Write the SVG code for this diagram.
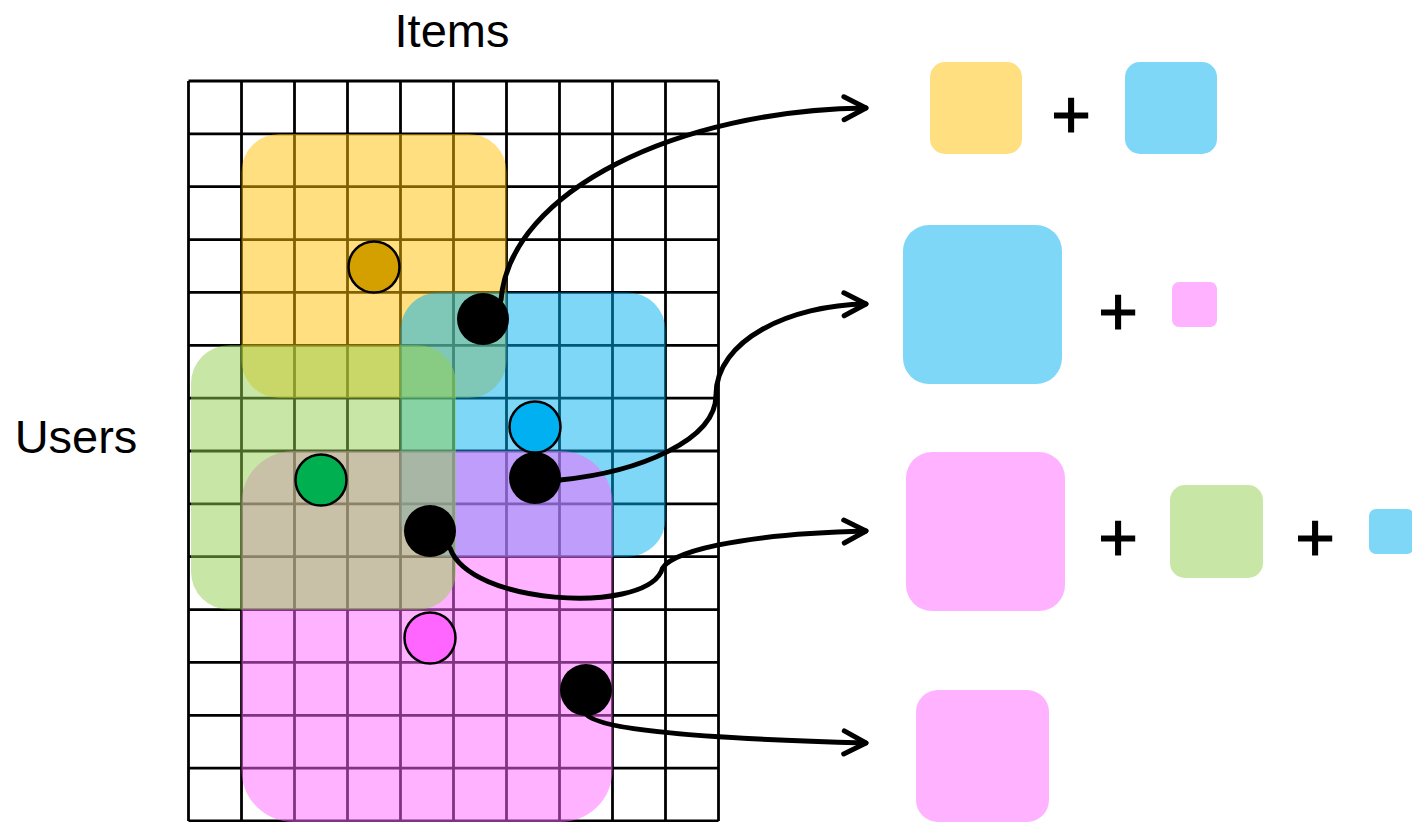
<svg xmlns="http://www.w3.org/2000/svg" width="1412" height="822" viewBox="0 0 1412 822">
  <style>
    .grid line { stroke: #000; stroke-width: 2.8; }
    .yellow { fill: #FFBF00; fill-opacity: 0.5; }
    .blue   { fill: #00AFEF; fill-opacity: 0.5; }
    .green  { fill: #92D050; fill-opacity: 0.5; }
    .pink   { fill: #FF66FF; fill-opacity: 0.5; }
    .dot    { stroke: #000; stroke-width: 2.5; }
    .hit    { fill: #000; }
    .link   { fill: none; stroke: #000; stroke-width: 5; stroke-linecap: round; }
    .label  { font-family: "Liberation Sans", Arial, sans-serif; font-size: 47px; fill: #000; text-anchor: middle; }
    .plus   { font-family: "Liberation Sans", Arial, sans-serif; font-size: 68px; fill: #000; stroke: #000; stroke-width: 1.2; text-anchor: middle; }
  </style>
  <defs>
    <marker id="chev" markerUnits="userSpaceOnUse" viewBox="-30 -16 36 32" refX="0" refY="0" markerWidth="36" markerHeight="32" orient="auto" overflow="visible">
      <path d="M -22 -11.5 L 0 0 L -22 11.5" fill="none" stroke="#000" stroke-width="5" stroke-linecap="round" stroke-linejoin="round"/>
    </marker>
  </defs>

  <rect width="1412" height="822" fill="#fff"/>

  <!-- axis labels -->
  <text id="label-items" class="label" x="452" y="47">Items</text>
  <text id="label-users" class="label" x="76" y="453">Users</text>

  <!-- user x item matrix: 10 columns, 14 rows -->
  <g id="matrix" class="grid">
    <line x1="188.5" y1="81" x2="188.5" y2="821"/>
    <line x1="241.5" y1="81" x2="241.5" y2="821"/>
    <line x1="294.5" y1="81" x2="294.5" y2="821"/>
    <line x1="347.5" y1="81" x2="347.5" y2="821"/>
    <line x1="400.5" y1="81" x2="400.5" y2="821"/>
    <line x1="453.5" y1="81" x2="453.5" y2="821"/>
    <line x1="506.5" y1="81" x2="506.5" y2="821"/>
    <line x1="559.5" y1="81" x2="559.5" y2="821"/>
    <line x1="612.5" y1="81" x2="612.5" y2="821"/>
    <line x1="665.5" y1="81" x2="665.5" y2="821"/>
    <line x1="718.5" y1="81" x2="718.5" y2="821"/>
    <line x1="188.5" y1="81" x2="718.5" y2="81"/>
    <line x1="188.5" y1="133.9" x2="718.5" y2="133.9"/>
    <line x1="188.5" y1="186.7" x2="718.5" y2="186.7"/>
    <line x1="188.5" y1="239.6" x2="718.5" y2="239.6"/>
    <line x1="188.5" y1="292.4" x2="718.5" y2="292.4"/>
    <line x1="188.5" y1="345.3" x2="718.5" y2="345.3"/>
    <line x1="188.5" y1="398.1" x2="718.5" y2="398.1"/>
    <line x1="188.5" y1="451" x2="718.5" y2="451"/>
    <line x1="188.5" y1="503.9" x2="718.5" y2="503.9"/>
    <line x1="188.5" y1="556.7" x2="718.5" y2="556.7"/>
    <line x1="188.5" y1="609.6" x2="718.5" y2="609.6"/>
    <line x1="188.5" y1="662.4" x2="718.5" y2="662.4"/>
    <line x1="188.5" y1="715.3" x2="718.5" y2="715.3"/>
    <line x1="188.5" y1="768.1" x2="718.5" y2="768.1"/>
    <line x1="188.5" y1="821" x2="718.5" y2="821"/>
  </g>

  <!-- translucent blocks over the matrix -->
  <g id="block-yellow"><rect class="yellow" x="241.5" y="133.9" width="265" height="264.2" rx="38"/></g>
  <g id="block-blue"><rect class="blue" x="400.5" y="292.4" width="265" height="264.3" rx="38"/></g>
  <g id="block-pink"><rect class="pink" x="241.5" y="451" width="371" height="371" rx="52"/></g>
  <g id="block-green"><rect class="green" x="191" y="345.3" width="265" height="264.3" rx="38"/></g>

  <!-- connectors -->
  <g id="connectors">
    <path class="link" d="M 501 300 C 510 190, 680 110, 866 108" marker-end="url(#chev)"/>
    <path class="link" d="M 560 480 C 640 472, 716 440, 716 395 C 716 340, 790 305, 866 304" marker-end="url(#chev)"/>
    <path class="link" d="M 450 548 C 470 605, 640 614, 661 572 C 664 552, 740 534, 866 531" marker-end="url(#chev)"/>
    <path class="link" d="M 585 712 C 590 728, 680 738, 866 743" marker-end="url(#chev)"/>
  </g>

  <!-- block centres and selected entries -->
  <g id="dot-yellow"><circle class="dot" cx="374" cy="267" r="25.5" fill="#D4A000"/></g>
  <g id="dot-blue"><circle class="dot" cx="535" cy="427" r="25.5" fill="#00B0F0"/></g>
  <g id="dot-green"><circle class="dot" cx="321" cy="480" r="25.5" fill="#00B050"/></g>
  <g id="dot-pink"><circle class="dot" cx="430" cy="638" r="25.5" fill="#FF66FF"/></g>
  <g id="entry-1"><circle class="hit" cx="483" cy="319" r="26"/></g>
  <g id="entry-2"><circle class="hit" cx="535" cy="478" r="26"/></g>
  <g id="entry-3"><circle class="hit" cx="430" cy="531" r="26"/></g>
  <g id="entry-4"><circle class="hit" cx="586" cy="690" r="26"/></g>

  <!-- weighted sums -->
  <g id="sum-1">
    <rect class="yellow" x="930" y="62" width="92" height="92" rx="15"/>
    <text class="plus" x="1071" y="138">+</text>
    <rect class="blue" x="1125" y="62" width="92" height="92" rx="15"/>
  </g>
  <g id="sum-2">
    <rect class="blue" x="903" y="225" width="159" height="159" rx="26"/>
    <text class="plus" x="1118" y="335">+</text>
    <rect class="pink" x="1172" y="282" width="45" height="45" rx="7"/>
  </g>
  <g id="sum-3">
    <rect class="pink" x="906" y="452" width="159" height="159" rx="26"/>
    <text class="plus" x="1118" y="561">+</text>
    <rect class="green" x="1170" y="485" width="93" height="93" rx="15"/>
    <text class="plus" x="1315" y="561">+</text>
    <rect class="blue" x="1369" y="509" width="45" height="45" rx="7"/>
  </g>
  <g id="sum-4">
    <rect class="pink" x="916" y="690" width="133" height="132" rx="22"/>
  </g>
</svg>
